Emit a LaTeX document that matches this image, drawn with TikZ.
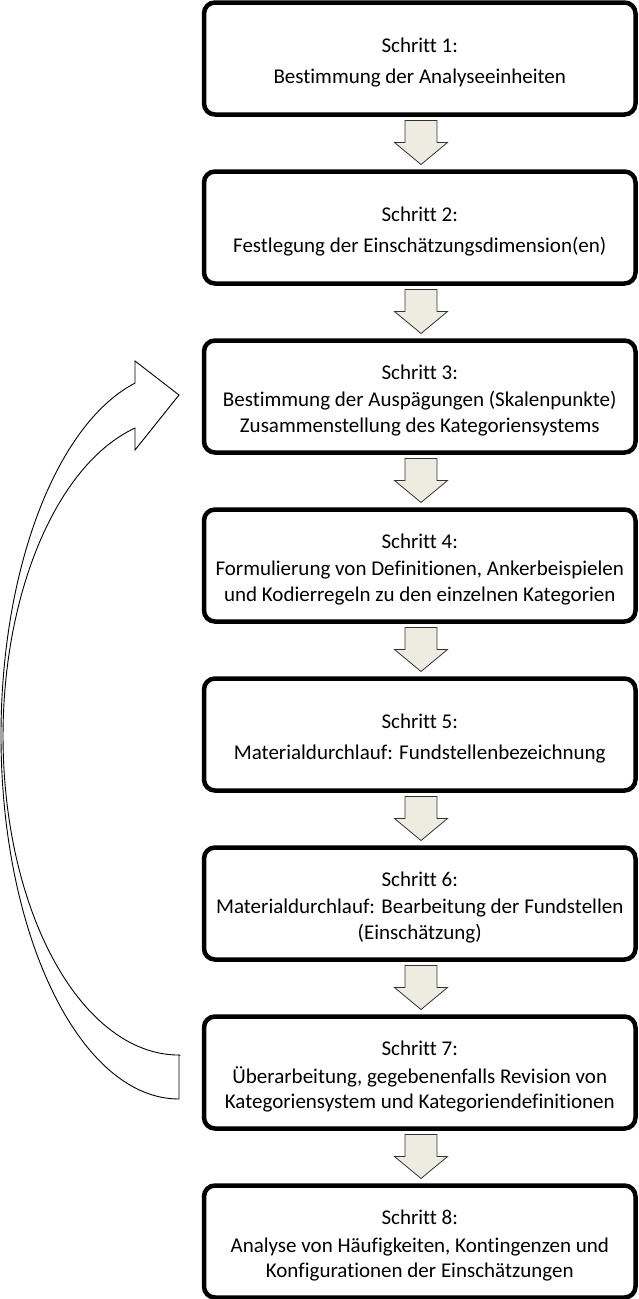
\documentclass[tikz,border=0pt]{standalone}
\usepackage{fontspec}
\setmainfont{Carlito}[Ligatures=NoCommon, Contextuals=NoAlternate, RawFeature={-liga;-clig;-dlig}]
\usetikzlibrary{calc}
\definecolor{arrowfill}{RGB}{238,236,225}
\tikzset{
  stepbox/.style={draw, line width=4.5pt, rounded corners=11pt, minimum width=431.5pt,
    minimum height=112pt, outer sep=0pt, inner sep=0pt},
  steptext/.style={align=center, inner sep=0pt, font=\fontsize{21}{25.5}\selectfont},
  blockarrow/.style={fill=arrowfill, draw=black!80, line width=0.8pt, line join=miter},
  curvearrow/.style={draw=black, line width=0.9pt, line join=miter}
}
\newcommand{\stepnode}[3]{%
  \node[stepbox] (#1) at (#2) {};
  \node[steptext] (#1t) at ($(#1)+(0,4)$) {#3};}
\newcommand{\blkarrow}[2]{%
  \draw[blockarrow] ($(#1.south)+(-14.75,6)$) -- ($(#1.south)+(17.25,6)$)
    -- ($(#1.south)+(17.25,28)$) -- ($(#1.south)+(27.75,28)$)
    -- ($(#2.north)+(1.25,-7)$)
    -- ($(#1.south)+(-25.25,28)$) -- ($(#1.south)+(-14.75,28)$) -- cycle;}
\begin{document}
\begin{tikzpicture}[x=1pt,y=-1pt]
\useasboundingbox (0,0) rectangle (639,1299);
\stepnode{s1}{419.75,58.5}{Schritt 1:\\[6pt]Bestimmung der Analyseeinheiten}
\stepnode{s2}{419.75,227.5}{Schritt 2:\\[6pt]Festlegung der Einschätzungsdimension(en)}
\stepnode{s3}{419.75,396.5}{Schritt 3:\\[2pt]Bestimmung der Auspägungen (Skalenpunkte)\\Zusammenstellung des Kategoriensystems}
\stepnode{s4}{419.75,565.5}{Schritt 4:\\[2pt]Formulierung von Definitionen, Ankerbeispielen\\und Kodierregeln zu den einzelnen Kategorien}
\stepnode{s5}{419.75,734.5}{Schritt 5:\\[6pt]Materialdurchlauf: Fundstellenbezeichnung}
\stepnode{s6}{419.75,903.5}{Schritt 6:\\[2pt]Materialdurchlauf: Bearbeitung der Fundstellen\\(Einschätzung)}
\stepnode{s7}{419.75,1072.5}{Schritt 7:\\[2pt]Überarbeitung, gegebenenfalls Revision von\\Kategoriensystem und Kategoriendefinitionen}
\stepnode{s8}{419.75,1241.5}{Schritt 8:\\[2pt]Analyse von Häufigkeiten, Kontingenzen und\\Konfigurationen der Einschätzungen}
\blkarrow{s1}{s2}
\blkarrow{s2}{s3}
\blkarrow{s3}{s4}
\blkarrow{s4}{s5}
\blkarrow{s5}{s6}
\blkarrow{s6}{s7}
\blkarrow{s7}{s8}
\coordinate (ctip) at ($(s3.west)+(-25,-1.5)$);
\coordinate (cbase) at ($(s7.west)+(-25,-17.5)$);
\draw[curvearrow] (cbase) -- ++(0,44)
  arc[start angle=270, end angle=104.3, x radius=178pt, y radius=363.6pt]
  -- (135,361) -- (ctip) -- (135,450) -- (135,428)
  arc[start angle=104.5, end angle=270, x radius=176pt, y radius=318.6pt] -- cycle;
\end{tikzpicture}
\end{document}
